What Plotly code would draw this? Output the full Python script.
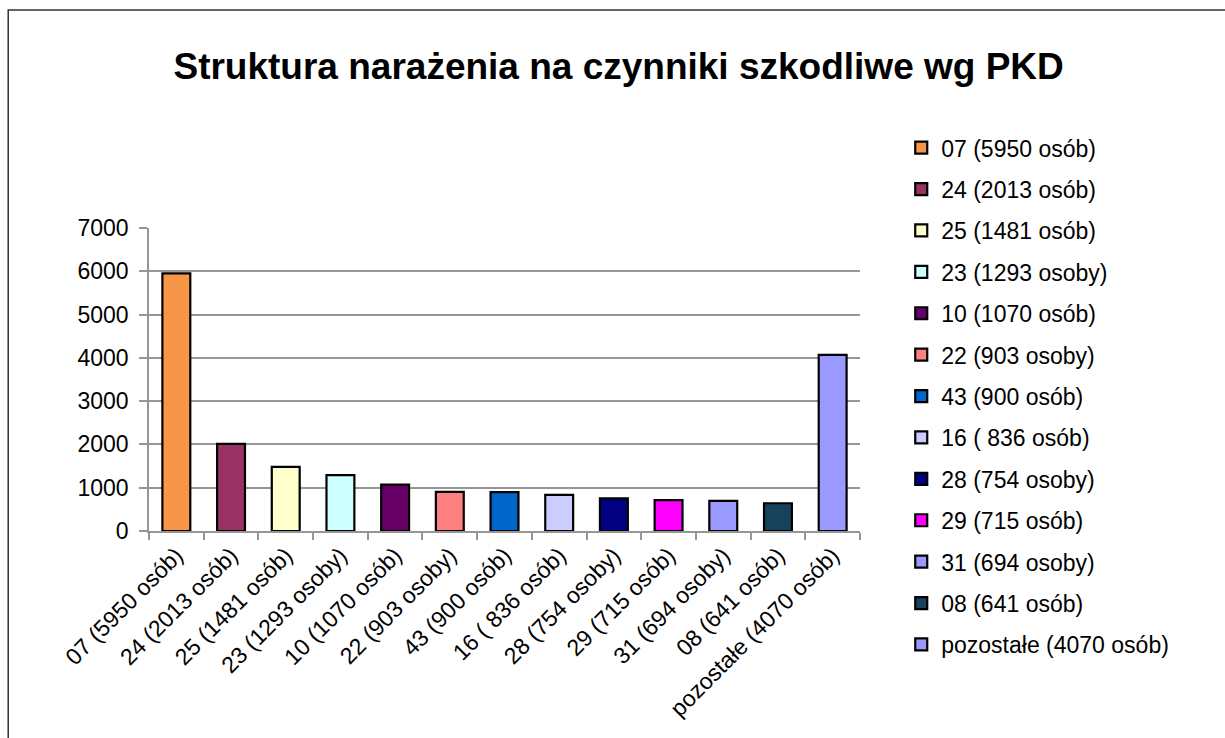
import plotly.graph_objects as go

# Categories (PKD sections) and number of exposed persons
categories = [
    "07 (5950 osób)", "24 (2013 osób)", "25 (1481 osób)", "23 (1293 osoby)",
    "10 (1070 osób)", "22 (903 osoby)", "43 (900 osób)", "16 ( 836 osób)",
    "28 (754 osoby)", "29 (715 osób)", "31 (694 osoby)", "08 (641 osób)",
    "pozostałe (4070 osób)",
]
values = [5950, 2013, 1481, 1293, 1070, 903, 900, 836, 754, 715, 694, 641, 4070]
colors = [
    "#F79646", "#993366", "#FFFFCC", "#CCFFFF", "#660066", "#FF8080", "#0066CC",
    "#CCCCFF", "#000080", "#FF00FF", "#9999FF", "#17425C", "#9999FF",
]
y_ticks = [0, 1000, 2000, 3000, 4000, 5000, 6000, 7000]

FONT = "Liberation Sans, Arial, sans-serif"
GRID = "#969696"

fig = go.Figure()
for i, (cat, val, col) in enumerate(zip(categories, values, colors)):
    fig.add_trace(go.Bar(
        x=[cat], y=[val], name=cat, legendgroup=f"g{i}",
        marker=dict(color=col, line=dict(color="black", width=2.2)),
        width=0.51,
    ))

fig.update_layout(
    width=1225, height=738,
    margin=dict(l=149, r=365, t=228, b=207),
    paper_bgcolor="white", plot_bgcolor="white",
    font=dict(family=FONT, size=23, color="black"),
    title=dict(
        text="<b>Struktura narażenia na czynniki szkodliwe wg PKD</b>",
        font=dict(family=FONT, size=37, color="black"),
        x=0.505, xanchor="center", y=0.91, yanchor="middle",
    ),
    barmode="overlay",
    showlegend=True,
    legend=dict(
        x=1.058, xanchor="left", y=1.336, yanchor="top",
        font=dict(family=FONT, size=23, color="black"),
        tracegroupgap=8.5, bgcolor="rgba(0,0,0,0)",
        itemclick=False, maxheight=1,
    ),
    xaxis=dict(
        type="category", categoryorder="array", categoryarray=categories,
        tickson="boundaries", ticks="outside", ticklen=7, tickwidth=1.5,
        tickcolor=GRID, showline=True, linecolor=GRID, linewidth=1.5,
        showgrid=False, tickangle=-45,
        tickfont=dict(family=FONT, size=23, color="black"),
    ),
    yaxis=dict(
        range=[0, 7000], tickvals=y_ticks, ticks="outside", ticklen=8,
        tickwidth=1.5, tickcolor=GRID, showline=True, linecolor=GRID,
        linewidth=1.5, showgrid=True, gridcolor=GRID, gridwidth=1.5,
        zeroline=False, ticklabelstandoff=6,
        tickfont=dict(family=FONT, size=23, color="black"),
    ),
    shapes=[dict(
        type="rect", xref="paper", yref="paper",
        x0=-0.198, x1=2.0, y0=-1.0, y1=1.7195,
        line=dict(color="#333333", width=1.5), fillcolor="rgba(0,0,0,0)",
        layer="above",
    )],
)

fig.write_html("out.html")
